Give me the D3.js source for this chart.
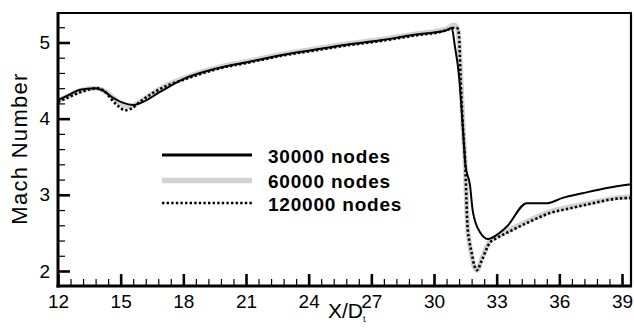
<!DOCTYPE html>
<html>
<head>
<meta charset="utf-8">
<script src="https://cdn.jsdelivr.net/npm/d3@7"></script>
<style>
  body { margin: 0; background: #fff; }
  text { font-family: "Liberation Sans", Arial, sans-serif; fill: #000; }
</style>
</head>
<body>
<svg id="vis" width="634" height="334"></svg>
<script>
// series (X/Dt, Mach)
const x30k = [12, 12.5, 13.05, 13.77, 14.2, 14.6, 15.1, 15.59, 16.07, 16.88, 18, 19.6, 21.2, 22.8, 24.4, 25.8, 27.45, 29.05, 30.6, 30.85, 31.0, 31.2, 31.3, 31.4, 31.5, 31.72, 31.86, 32.2, 32.6, 32.8, 33.48, 34.44, 35.4, 36.16, 37.1, 38.27, 39.43];
const m30k = [4.245, 4.31, 4.38, 4.40, 4.36, 4.28, 4.21, 4.18, 4.22, 4.35, 4.52, 4.66, 4.75, 4.84, 4.91, 4.97, 5.03, 5.10, 5.16, 5.19, 4.95, 4.55, 4.2, 3.8, 3.4, 3.13, 2.78, 2.51, 2.42, 2.44, 2.58, 2.89, 2.89, 2.96, 3.02, 3.09, 3.14];

const x60k = [12, 12.5, 13.1, 13.85, 14.3, 14.7, 15.1, 15.45, 15.8, 16.3, 17.0, 18, 19.6, 21.2, 22.8, 24.4, 25.8, 27.45, 29.05, 30.6, 30.95, 31.1, 31.2, 31.3, 31.4, 31.5, 31.55, 31.6, 31.7, 31.8, 31.92, 32.05, 32.3, 32.67, 33.0, 33.77, 34.6, 35.55, 36.65, 37.6, 38.75, 39.43];
const m60k = [4.23, 4.30, 4.37, 4.40, 4.35, 4.26, 4.18, 4.16, 4.20, 4.29, 4.41, 4.53, 4.67, 4.76, 4.85, 4.92, 4.98, 5.04, 5.11, 5.18, 5.23, 5.20, 5.0, 4.45, 3.85, 3.35, 2.95, 2.6, 2.36, 2.2, 2.06, 2.01, 2.17, 2.39, 2.45, 2.56, 2.67, 2.78, 2.85, 2.90, 2.96, 2.97];

const x120k = [12, 12.5, 13.1, 13.9, 14.3, 14.6, 14.95, 15.2, 15.5, 15.92, 16.5, 17.2, 18, 19.6, 21.2, 22.8, 24.4, 25.8, 27.45, 29.05, 30.6, 30.9, 31.1, 31.19, 31.28, 31.4, 31.5, 31.55, 31.6, 31.7, 31.8, 31.92, 32.05, 32.3, 32.67, 33.0, 33.77, 34.6, 35.55, 36.65, 37.6, 38.75, 39.43];
const m120k = [4.22, 4.28, 4.35, 4.40, 4.34, 4.24, 4.15, 4.11, 4.13, 4.22, 4.33, 4.43, 4.51, 4.65, 4.74, 4.83, 4.90, 4.96, 5.02, 5.09, 5.16, 5.19, 5.19, 5.12, 4.47, 3.81, 3.37, 2.95, 2.6, 2.38, 2.24, 2.08, 2.01, 2.15, 2.37, 2.43, 2.54, 2.65, 2.76, 2.83, 2.89, 2.95, 2.96];

const seriesNames = ['30000 nodes', '60000 nodes', '120000 nodes'];
const xTicks = [12, 15, 18, 21, 24, 27, 30, 33, 36, 39];
const yTicks = [2, 3, 4, 5];

var svg = d3.select('#vis');
var padL = 58, padR = 631, padT = 13, padB = 286;

var x = d3.scaleLinear().domain([12, 39.43]).range([padL, padR]);
var y = d3.scaleLinear().domain([1.803, 5.387]).range([padB, padT]);

svg.append('defs').append('clipPath').attr('id', 'plot')
    .append('rect').attr('x', padL).attr('y', padT)
    .attr('width', padR - padL).attr('height', padB - padT);

var styles = [
    {stroke: '#000', width: 2, dash: null, legendWidth: 3},
    {stroke: '#d2d2d2', width: 5, dash: null, legendWidth: 5.5},
    {stroke: '#000', width: 2.6, dash: '2.4,2.2', legendWidth: 2.6}
];

function zipSeries(xs, ms) {
    return xs.map(function(d, i) { return [d, ms[i]]; });
}
var series = [zipSeries(x30k, m30k), zipSeries(x60k, m60k), zipSeries(x120k, m120k)];

var line = d3.line()
    .x(function(d) { return x(d[0]); })
    .y(function(d) { return y(d[1]); })
    .curve(d3.curveMonotoneX);

// draw gray first, then solid, then dotted on top
var order = [1, 0, 2];
var g = svg.append('g').attr('clip-path', 'url(#plot)');
order.forEach(function(i) {
    g.append('path')
        .attr('d', line(series[i]))
        .attr('fill', 'none')
        .attr('stroke', styles[i].stroke)
        .attr('stroke-width', styles[i].width)
        .attr('stroke-dasharray', styles[i].dash)
        .attr('stroke-linejoin', 'round');
});

// minor ticks
var xMinor = d3.range(12, 39.5, 0.6).filter(function(v) { return xTicks.every(function(t) { return Math.abs(t - v) > 0.01; }); });
var yMinor = d3.range(2.2, 5.3, 0.2).filter(function(v) { return yTicks.every(function(t) { return Math.abs(t - v) > 0.01; }); });

svg.append('g').attr('transform', 'translate(0,' + padB + ')')
    .call(d3.axisBottom(x).tickValues(xMinor).tickSize(-7).tickFormat(''))
    .call(function(a) { a.select('.domain').remove(); a.selectAll('line').attr('stroke-width', 1.2); });
svg.append('g').attr('transform', 'translate(' + padL + ',0)')
    .call(d3.axisLeft(y).tickValues(yMinor).tickSize(-7).tickFormat(''))
    .call(function(a) { a.select('.domain').remove(); a.selectAll('line').attr('stroke-width', 1.2); });

// major ticks
svg.append('g').attr('transform', 'translate(0,' + padB + ')')
    .call(d3.axisBottom(x).tickValues(xTicks).tickSize(-12).tickPadding(9).tickFormat(d3.format('d')))
    .call(function(a) {
        a.select('.domain').remove();
        a.selectAll('line').attr('stroke-width', 2.6);
        a.selectAll('text').attr('font-size', 19).attr('font-family', '"Liberation Sans", Arial, sans-serif');
    });
svg.append('g').attr('transform', 'translate(' + padL + ',0)')
    .call(d3.axisLeft(y).tickValues(yTicks).tickSize(-12).tickPadding(8).tickFormat(d3.format('d')))
    .call(function(a) {
        a.select('.domain').remove();
        a.selectAll('line').attr('stroke-width', 2.6);
        a.selectAll('text').attr('font-size', 19).attr('font-family', '"Liberation Sans", Arial, sans-serif');
    });

// frame
svg.append('line').attr('x1', padL - 1).attr('x2', padR + 1).attr('y1', padT).attr('y2', padT)
    .attr('stroke', '#000').attr('stroke-width', 2.2);
svg.append('line').attr('x1', padR).attr('x2', padR).attr('y1', padT).attr('y2', padB)
    .attr('stroke', '#000').attr('stroke-width', 2.2);
svg.append('line').attr('x1', padL).attr('x2', padL).attr('y1', padT - 1).attr('y2', padB + 1.5)
    .attr('stroke', '#000').attr('stroke-width', 3);
svg.append('line').attr('x1', padL - 1.5).attr('x2', padR + 1).attr('y1', padB).attr('y2', padB)
    .attr('stroke', '#000').attr('stroke-width', 3);

// legend
var legendY = [155, 180.5, 203];
var legend = svg.append('g');
seriesNames.forEach(function(name, i) {
    legend.append('line')
        .attr('x1', 162).attr('x2', 252)
        .attr('y1', legendY[i]).attr('y2', legendY[i])
        .attr('stroke', styles[i].stroke)
        .attr('stroke-width', styles[i].legendWidth)
        .attr('stroke-dasharray', styles[i].dash);
    legend.append('text')
        .attr('x', 268).attr('y', legendY[i] + 7.5)
        .attr('font-size', 19).attr('font-weight', 'bold')
        .attr('letter-spacing', 0.8)
        .text(name);
});

// axis titles
svg.append('text')
    .attr('transform', 'translate(27,' + 148.5 + ') rotate(-90)')
    .attr('text-anchor', 'middle')
    .attr('font-size', 22).attr('letter-spacing', 1.3)
    .text('Mach Number');

var xt = svg.append('text').attr('x', 328).attr('y', 318).attr('font-size', 21);
xt.append('tspan').text('X/D');
xt.append('tspan').attr('font-size', 9).attr('dy', 4).text('t');
</script>
</body>
</html>
